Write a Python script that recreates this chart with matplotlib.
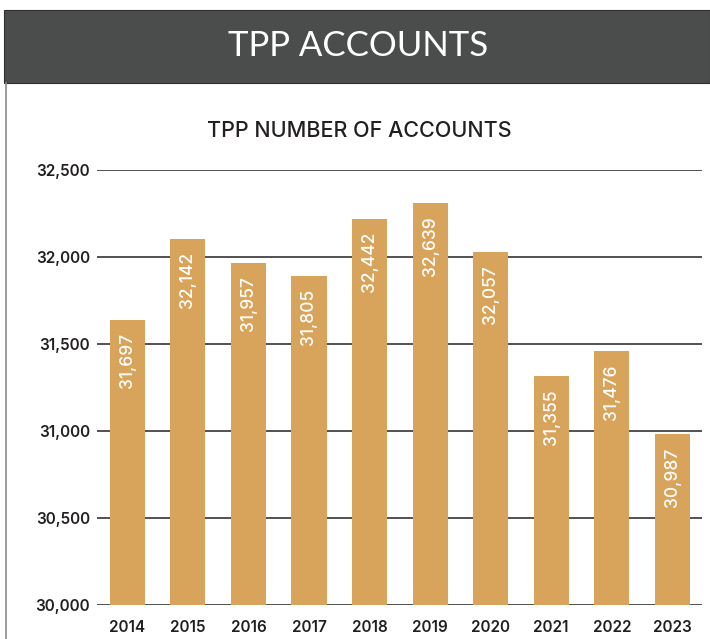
import matplotlib
matplotlib.use("Agg")
import matplotlib.pyplot as plt
from matplotlib.patches import Rectangle
from matplotlib.lines import Line2D

years = ["2014", "2015", "2016", "2017", "2018", "2019", "2020", "2021", "2022", "2023"]
bar_heights = [31638, 32103, 31966, 31891, 32218, 32310, 32029, 31314, 31458, 30981]
value_labels = ["31,697", "32,142", "31,957", "31,805", "32,442", "32,639", "32,057", "31,355", "31,476", "30,987"]
yticks = [30000, 30500, 31000, 31500, 32000, 32500]
ytick_labels = ["30,000", "30,500", "31,000", "31,500", "32,000", "32,500"]

title = "TPP ACCOUNTS"
subtitle = "TPP NUMBER OF ACCOUNTS"

BAR = "#d8a45b"
DARK = "#4b4d4c"
TXT = "#231f20"
FONT = ["Inter", "DejaVu Sans"]
plt.rcParams["font.family"] = FONT

W, H = 710, 639
fig = plt.figure(figsize=(W / 100, H / 100), dpi=100)
fig.patch.set_facecolor("white")

# header box
fig.add_artist(Rectangle((4 / W, 1 - 83 / H), 1 - 4 / W, 73 / H, transform=fig.transFigure,
                         facecolor=DARK, edgecolor="#2e2f2f", linewidth=0.8))
# left border
fig.add_artist(Line2D([5.5 / W, 5.5 / W], [0, 1 - 83 / H], transform=fig.transFigure,
                      color="#8a8a8a", linewidth=1.2))
fig.text(358 / W, 1 - 46 / H, title, color="white", fontsize=25, ha="center", va="center",
         family=["Lato", "DejaVu Sans"])
fig.text(359 / W, 1 - 131 / H, subtitle, color=TXT, fontsize=15.5, ha="center", va="center",
         fontweight="medium")

ax = fig.add_axes([97 / W, 1 - 605 / H, (702 - 97) / W, (605 - 170) / H])
x = list(range(len(years)))
ax.bar(x, [h - 30000 for h in bar_heights], bottom=30000, width=0.58, color=BAR, zorder=2)
ax.set_xlim(-0.5, 9.49)
ax.set_ylim(30000, 32500)
ax.set_yticks(yticks)
ax.set_yticklabels(ytick_labels)
ax.set_xticks(x)
ax.set_xticklabels(years)
for yv in yticks:
    ax.axhline(yv, color="#333333", linewidth=1.2, zorder=1)
for s in ax.spines.values():
    s.set_visible(False)
ax.tick_params(axis="both", length=0, labelsize=11, labelcolor=TXT)
ax.tick_params(axis="y", pad=5)
ax.tick_params(axis="x", pad=11)
for lab in ax.get_xticklabels() + ax.get_yticklabels():
    lab.set_fontweight("semibold")

# value labels inside bars (rotated)
offset = 13 * 2500 / (605 - 170)
for xi, h, lab in zip(x, bar_heights, value_labels):
    ax.text(xi, h - offset, lab, rotation=90, ha="center", va="top", color="white",
            fontsize=12.5, fontweight="medium", zorder=3)

fig.savefig("out.png", dpi=100, facecolor="white")
